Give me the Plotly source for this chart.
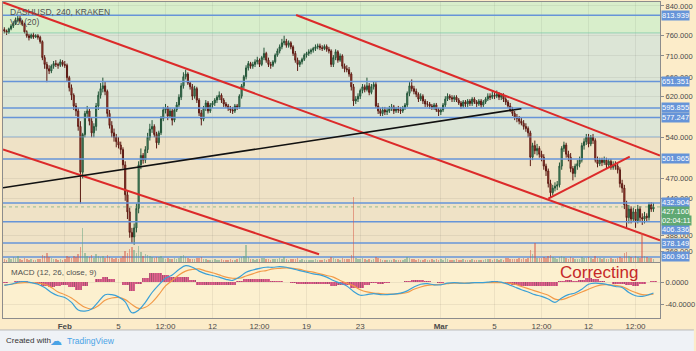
import math
import pandas as pd
import plotly.graph_objects as go

# ---------------- data ----------------
candle_start = "2018-01-27 12:00"   # 240-minute candles
first_open = 776
closes = [
    772, 768, 778,
    785, 792, 800, 806, 798, 790,
    770, 760, 755, 762, 757, 760,
    756, 745, 706, 690, 680, 675,
    686, 692, 690, 688, 696, 690,
    688, 660, 638, 622, 600, 590,
    560, 480, 545, 585, 590, 570,
    548, 560, 600, 622, 636, 642,
    630, 585, 562, 548, 540, 532,
    526, 518, 492, 445, 420, 392,
    386, 398, 425, 492, 508, 500,
    518, 540, 555, 560, 545, 530,
    548, 575, 592, 596, 580, 590,
    572, 592, 602, 618, 642, 662,
    668, 648, 640, 620, 636, 612,
    586, 574, 596, 606, 590, 602,
    606, 612, 618, 622, 612, 604,
    600, 595, 592, 590, 600, 598,
    620, 642, 662, 682, 692, 686,
    690, 696, 700, 690, 706, 716,
    700, 690, 688, 696, 712, 722,
    732, 742, 746, 736, 742, 732,
    716, 700, 690, 696, 702, 712,
    716, 720, 724, 728, 732, 734,
    730, 728, 733, 726, 722, 690,
    706, 720, 700, 710, 686, 680,
    678, 668, 640, 610, 614, 620,
    632, 640, 634, 642, 628, 640,
    645, 600, 590, 585, 592, 588,
    590, 595, 598, 590, 594, 592,
    590, 596, 602, 626, 642, 636,
    630, 624, 614, 620, 610, 604,
    604, 600, 597, 602, 592, 588,
    592, 602, 614, 620, 617, 614,
    618, 612, 606, 600, 608, 604,
    610, 605, 614, 608, 604, 610,
    602, 608, 614, 620, 618, 622,
    620, 624, 618, 622, 614, 608,
    600, 592, 585, 578, 575, 570,
    566, 560, 556, 548, 505, 525,
    516, 520, 510, 505, 490, 482,
    462, 448, 455, 458, 460, 490,
    520, 526, 510, 505, 486, 478,
    490, 494, 500, 525, 532, 540,
    528, 540, 534, 500, 494, 500,
    496, 500, 492, 498, 488, 492,
    490, 484, 462, 455, 430, 412,
    424, 410, 420, 408, 424, 412,
    410, 414, 412, 430, 424, 427.1,
]
highs = [
    782, 776, 781,
    790, 798, 808, 815, 812, 802,
    794, 774, 765, 766, 768, 764,
    764, 760, 748, 712, 696, 688,
    690, 698, 700, 694, 702, 700,
    698, 692, 664, 645, 626, 606,
    596, 570, 548, 590, 600, 594,
    576, 566, 606, 630, 648, 660,
    652, 634, 592, 570, 556, 546,
    540, 532, 522, 498, 452, 426,
    398, 404, 432, 498, 520, 512,
    524, 548, 565, 572, 564, 550,
    552, 580, 598, 604, 600, 596,
    594, 596, 608, 624, 648, 672,
    678, 672, 652, 646, 642, 640,
    616, 592, 600, 612, 610, 606,
    610, 616, 622, 630, 626, 616,
    608, 604, 600, 598, 604, 604,
    624, 646, 666, 688, 698, 696,
    696, 702, 708, 704, 710, 730,
    720, 706, 696, 700, 716, 728,
    738, 752, 760, 752, 748, 746,
    736, 722, 706, 700, 706, 716,
    720, 726, 728, 732, 738, 740,
    740, 736, 738, 738, 732, 726,
    712, 726, 724, 716, 714, 692,
    688, 684, 672, 646, 620, 626,
    636, 646, 645, 660, 648, 646,
    652, 650, 606, 596, 598, 598,
    596, 600, 604, 602, 598, 600,
    598, 600, 606, 630, 650, 656,
    642, 636, 628, 626, 624, 614,
    610, 608, 604, 606, 606, 596,
    596, 606, 620, 626, 624, 622,
    622, 622, 616, 610, 612, 612,
    614, 614, 618, 618, 612, 614,
    614, 612, 618, 626, 626, 630,
    628, 632, 628, 626, 626, 618,
    612, 606, 598, 590, 584, 580,
    576, 572, 566, 560, 552, 530,
    534, 528, 524, 516, 510, 494,
    486, 468, 460, 464, 466, 496,
    524, 532, 530, 516, 512, 490,
    494, 500, 506, 530, 538, 546,
    546, 544, 546, 538, 506, 504,
    504, 506, 504, 502, 502, 498,
    498, 494, 488, 468, 460, 436,
    430, 428, 426, 424, 430, 428,
    418, 420, 418, 434, 434, 433,
]
lows = [
    766, 762, 765,
    774, 780, 788, 795, 794, 785,
    766, 755, 748, 752, 752, 754,
    750, 740, 700, 680, 650, 668,
    670, 680, 684, 680, 684, 685,
    682, 652, 630, 612, 592, 580,
    552, 432, 470, 540, 578, 562,
    540, 540, 552, 592, 615, 628,
    622, 578, 556, 540, 532, 522,
    520, 510, 486, 436, 410, 385,
    378, 376, 392, 418, 485, 494,
    495, 512, 534, 548, 540, 520,
    526, 544, 570, 585, 572, 576,
    562, 568, 588, 598, 612, 636,
    656, 644, 634, 612, 615, 606,
    580, 562, 570, 590, 585, 586,
    596, 600, 606, 612, 606, 598,
    596, 590, 586, 584, 586, 592,
    594, 615, 636, 656, 676, 680,
    680, 684, 690, 684, 686, 700,
    694, 684, 680, 684, 692, 708,
    716, 726, 736, 730, 730, 726,
    710, 694, 675, 684, 690, 698,
    706, 710, 714, 718, 722, 726,
    724, 722, 724, 720, 716, 684,
    684, 700, 694, 696, 680, 672,
    672, 662, 632, 600, 604, 608,
    614, 626, 628, 630, 622, 624,
    634, 596, 584, 580, 580, 582,
    582, 586, 590, 584, 586, 586,
    584, 586, 592, 598, 620, 630,
    624, 618, 608, 610, 604, 598,
    598, 594, 592, 592, 588, 580,
    582, 588, 598, 610, 612, 608,
    608, 608, 602, 594, 596, 598,
    598, 600, 600, 604, 598, 600,
    596, 598, 604, 610, 612, 614,
    614, 616, 612, 612, 608, 602,
    596, 588, 580, 572, 568, 564,
    562, 554, 550, 540, 490, 500,
    510, 508, 504, 498, 484, 474,
    456, 441, 444, 450, 452, 456,
    484, 514, 504, 498, 480, 467,
    472, 484, 488, 496, 518, 526,
    522, 524, 528, 496, 488, 490,
    490, 492, 486, 488, 484, 484,
    484, 478, 456, 448, 424, 398,
    404, 404, 406, 398, 404, 406,
    402, 404, 406, 408, 420, 420,
]
volumes = [
    300, 250, 400,
    350, 500, 450, 600, 300, 250,
    400, 300, 250, 300, 200, 250,
    300, 350, 700, 600, 900, 500,
    400, 300, 350, 250, 300, 250,
    300, 600, 500, 450, 600, 500,
    800, 1500, 3400, 900, 600, 500,
    700, 400, 800, 600, 500, 600,
    400, 700, 500, 400, 350, 400,
    300, 400, 600, 1100, 900, 1300,
    1500, 1200, 900, 1600, 1000, 600,
    800, 700, 600, 500, 450, 500,
    500, 600, 400, 350, 400, 300,
    350, 400, 300, 450, 600, 700,
    500, 400, 300, 350, 300, 400,
    450, 500, 350, 300, 250, 200,
    250, 300, 200, 250, 300, 200,
    250, 200, 300, 250, 200, 300,
    400, 500, 600, 1700, 500, 300,
    300, 250, 300, 350, 400, 450,
    350, 300, 250, 300, 350, 300,
    400, 350, 500, 300, 250, 300,
    350, 300, 400, 250, 300, 250,
    200, 250, 200, 250, 300, 200,
    250, 200, 300, 250, 300, 500,
    400, 350, 300, 250, 400, 300,
    300, 350, 700, 6500, 400, 350,
    300, 400, 300, 250, 300, 250,
    300, 500, 400, 300, 250, 200,
    250, 200, 250, 300, 200, 250,
    200, 250, 300, 500, 450, 300,
    300, 250, 300, 200, 250, 300,
    250, 200, 300, 250, 300, 250,
    300, 250, 400, 300, 250, 200,
    250, 300, 200, 250, 300, 250,
    200, 250, 300, 200, 250, 200,
    250, 200, 300, 350, 300, 250,
    300, 350, 250, 300, 250, 400,
    400, 350, 300, 350, 300, 400,
    350, 400, 300, 450, 1200, 800,
    1900, 400, 450, 400, 500, 450,
    600, 700, 500, 400, 350, 500,
    600, 500, 400, 350, 500, 450,
    350, 300, 350, 500, 400, 450,
    500, 400, 350, 600, 450, 400,
    350, 400, 300, 350, 400, 300,
    350, 400, 500, 450, 900, 1000,
    600, 500, 450, 600, 500, 400,
    2900, 600, 500, 450, 400, 300,
]

# MACD (12, 26, close, 9), read every 12 hours
macd_start = "2018-01-27 12:00"
macd_last_time = "2018-03-16 20:00"
macd_line = [
    -5, -3, 1, 2, 0, -3, -9, -18, -24, -27, -36, -50, -52, -48, -35, -22, -22,
    -26, -35, -55, -50, -36, -18, -4, 8, 14, 24, 31, 28, 21, 16, 13, 10, 6, 4,
    10, 19, 23, 26, 28, 28, 29, 28, 25, 22, 19, 16, 14, 10, 4, -1, -6, -16, -23,
    -22, -20, -22, -22, -21, -19, -15, -8, -3, -2, -4, -4, -1, 0, -1, -1, 0, 0,
    1, 2, 1, -3, -8, -13, -17, -22, -25, -30, -36, -28, -22, -19, -12, -3, -1,
    -2, -4, -7, -9, -18, -24, -25, -22, -19,
]
signal_line = [
    -4, -3, -1, 0, 0, -1, -3, -9, -17, -22, -28, -37, -45, -48, -42, -32, -28,
    -27, -31, -40, -47, -45, -36, -22, -6, 4, 14, 21, 24, 25, 21, 18, 14, 10, 8,
    8, 12, 16, 20, 22, 25, 26, 27, 26, 24, 21, 19, 16, 13, 10, 4, -1, -6, -13,
    -17, -19, -20, -21, -21, -20, -18, -12, -8, -5, -4, -3, -2, -1, -1, -1, 0, 0,
    0, 0, 0, -1, -3, -7, -11, -15, -19, -23, -30, -31, -27, -22, -17, -12, -7,
    -4, -4, -5, -7, -13, -18, -22, -22, -21,
]

# horizontal levels and drawn trend lines (date, price)
level_prices = [813.939, 651.351, 595.855, 577.247, 501.965, 432.904, 406.336, 378.149, 360.961]
zone_edges = [767.2, 540.6]
last_price = 427.1
countdown = "02:04:11"
red_lines = [
    [("2018-01-27 09:36", 850.4), ("2018-03-17 07:41", 381.8)],
    [("2018-02-18 05:21", 815.0), ("2018-03-17 07:41", 507.8)],
    [("2018-01-27 09:36", 518.1), ("2018-02-19 22:21", 364.2)],
    [("2018-03-09 00:00", 439.1), ("2018-03-15 01:40", 506.0)],
]
black_line = [("2018-01-27 09:36", 455.6), ("2018-03-07 00:00", 594.5)]

price_ticks = [840, 760, 710, 660, 620, 540, 470, 440, 388, 368]
x_tick_dates = ["2018-02-01", "2018-02-05", "2018-02-08 12:00", "2018-02-12", "2018-02-15 12:00",
                "2018-02-19", "2018-02-23", "2018-03-01", "2018-03-05", "2018-03-08 12:00",
                "2018-03-12", "2018-03-15 12:00"]
x_tick_text = ["<b>Feb</b>", "5", "12:00", "12", "12:00", "19", "23", "<b>Mar</b>", "5", "12:00", "12", "12:00"]

# ---------------- layout geometry ----------------
W, H = 696, 351
ML, MR, MT, MB = 3, 34, 1, 33
PW = W - ML - MR
PH = H - MT - MB


def xpx(px):
    return (px - ML) / PW


def ypx(py):
    return (H - MB - py) / PH


MAIN_DOM = [ypx(262), 1.0]
MACD_DOM = [0.0, ypx(263)]
P_TOP, P_BOT = 851.35, 354.6
X_RANGE = ["2018-01-27 09:36", "2018-03-17 07:41"]


def p2paper(p):
    f = (math.log10(p) - math.log10(P_BOT)) / (math.log10(P_TOP) - math.log10(P_BOT))
    return MAIN_DOM[0] + f * (MAIN_DOM[1] - MAIN_DOM[0])


FONT = "Liberation Sans, Arial, sans-serif"

times = pd.date_range(candle_start, periods=len(closes), freq="4h")
opens = [first_open] + closes[:-1]
up = [c >= o for o, c in zip(opens, closes)]
vol_colors = ["rgba(107,165,131,0.55)" if u else "rgba(215,84,66,0.5)" for u in up]

macd_times = list(pd.date_range(macd_start, periods=len(macd_line) - 1, freq="12h")) + [pd.Timestamp(macd_last_time)]
hist = [m - s for m, s in zip(macd_line, signal_line)]

fig = go.Figure()

# volume (overlay axis)
fig.add_trace(go.Bar(x=times, y=volumes, marker=dict(color=vol_colors, line=dict(width=0)),
                     width=4 * 3600 * 1000 * 0.7, xaxis="x", yaxis="y3", showlegend=False,
                     hoverinfo="skip"))

# horizontal zone edges
zone_cols = ["rgba(120,200,170,0.7)", "rgba(120,160,210,0.7)"]
for p, c in zip(zone_edges, zone_cols):
    fig.add_trace(go.Scatter(x=X_RANGE, y=[p, p], mode="lines", line=dict(color=c, width=1),
                             xaxis="x", yaxis="y", showlegend=False, hoverinfo="skip"))

# blue levels
for p in level_prices:
    fig.add_trace(go.Scatter(x=X_RANGE, y=[p, p], mode="lines", line=dict(color="#6694d8", width=1.5),
                             xaxis="x", yaxis="y", showlegend=False, hoverinfo="skip"))

# last price dotted line
fig.add_trace(go.Scatter(x=X_RANGE, y=[last_price, last_price], mode="lines",
                         line=dict(color="rgba(90,160,110,0.6)", width=1, dash="dot"),
                         xaxis="x", yaxis="y", showlegend=False, hoverinfo="skip"))

# candles
fig.add_trace(go.Candlestick(
    x=times, open=opens, high=highs, low=lows, close=closes,
    increasing=dict(line=dict(color="#225437", width=1), fillcolor="#6ba583"),
    decreasing=dict(line=dict(color="#5b1a13", width=1), fillcolor="#d75442"),
    whiskerwidth=0, xaxis="x", yaxis="y", showlegend=False))

# trend lines
for seg in red_lines:
    fig.add_trace(go.Scatter(x=[seg[0][0], seg[1][0]], y=[seg[0][1], seg[1][1]], mode="lines",
                             line=dict(color="#dc2a2a", width=2), xaxis="x", yaxis="y",
                             showlegend=False, hoverinfo="skip"))
fig.add_trace(go.Scatter(x=[black_line[0][0], black_line[1][0]], y=[black_line[0][1], black_line[1][1]],
                         mode="lines", line=dict(color="#111111", width=1.6), xaxis="x", yaxis="y",
                         showlegend=False, hoverinfo="skip"))

# MACD
fig.add_trace(go.Bar(x=macd_times, y=hist, width=12 * 3600 * 1000,
                     marker=dict(color="rgba(222,60,125,0.8)", line=dict(width=0),
                                 pattern=dict(shape="|", size=2.2, solidity=0.3)),
                     xaxis="x", yaxis="y2", showlegend=False, hoverinfo="skip"))
fig.add_trace(go.Scatter(x=macd_times, y=signal_line, mode="lines", line=dict(color="#f29a48", width=1.2, shape="spline"),
                         xaxis="x", yaxis="y2", showlegend=False, hoverinfo="skip"))
fig.add_trace(go.Scatter(x=macd_times, y=macd_line, mode="lines", line=dict(color="#3aa0d6", width=1.2, shape="spline"),
                         xaxis="x", yaxis="y2", showlegend=False, hoverinfo="skip"))

# ---------------- shapes (background zones, footer) ----------------
shapes = [
    dict(type="rect", xref="paper", yref="paper", x0=0, x1=1, y0=p2paper(zone_edges[0]), y1=1,
         fillcolor="#d8eecb", line=dict(width=0), layer="below"),
    dict(type="rect", xref="paper", yref="paper", x0=0, x1=1, y0=p2paper(zone_edges[1]), y1=p2paper(zone_edges[0]),
         fillcolor="#dce5d6", line=dict(width=0), layer="below"),
    dict(type="rect", xref="paper", yref="paper", x0=0, x1=1, y0=MAIN_DOM[0], y1=p2paper(zone_edges[1]),
         fillcolor="#efe2c6", line=dict(width=0), layer="below"),
    dict(type="rect", xref="paper", yref="paper", x0=xpx(0), x1=xpx(W), y0=ypx(H), y1=ypx(330),
         fillcolor="#eff2f6", line=dict(width=0), layer="below"),
    dict(type="line", xref="paper", yref="paper", x0=xpx(0), x1=xpx(W), y0=ypx(330), y1=ypx(330),
         line=dict(color="#b9b9b9", width=1)),
]

# ---------------- annotations ----------------
ann = []
labels = []
for p in level_prices:
    labels.append((f"{p:.3f}", p, "#6694d8", -7.5 if abs(p - 406.336) < 1e-6 else 0))
labels.append((f"{last_price:.3f}", last_price, "#5fa873", -4.5))
labels.append((countdown, last_price, "#5fa873", -13.5))
for t, p, c, sh in labels:
    ann.append(dict(text=t, xref="paper", yref="paper", x=1, y=p2paper(p), xanchor="left", yanchor="middle",
                    yshift=sh, xshift=1, showarrow=False, bgcolor=c, borderpad=0,
                    font=dict(color="white", size=7.5, family=FONT)))

ann += [
    dict(text="DASHUSD, 240, KRAKEN", x=xpx(8), y=ypx(11), xanchor="left", yanchor="middle",
         font=dict(size=8.5, color="#505050", family=FONT)),
    dict(text="Vol (20)", x=xpx(8), y=ypx(21.5), xanchor="left", yanchor="middle",
         font=dict(size=8.5, color="#505050", family=FONT)),
    dict(text="MACD (12, 26, close, 9)", x=xpx(9), y=ypx(272), xanchor="left", yanchor="middle",
         font=dict(size=8, color="#505050", family=FONT)),
    dict(text="Correcting", x=xpx(601), y=ypx(272), xanchor="center", yanchor="middle",
         font=dict(size=17, color="#c62828", family=FONT)),
    dict(text="Created with", x=xpx(4), y=ypx(341), xanchor="left", yanchor="middle",
         font=dict(size=8, color="#333333", family=FONT)),
    dict(text="☁", x=xpx(56), y=ypx(341), xanchor="center", yanchor="middle",
         font=dict(size=12, color="#4aa3e6", family="DejaVu Sans")),
    dict(text="TradingView", x=xpx(65), y=ypx(341), xanchor="left", yanchor="middle",
         font=dict(size=8.5, color="#4aa3e6", family=FONT)),
]
for a in ann:
    a.setdefault("xref", "paper")
    a.setdefault("yref", "paper")
    a.setdefault("showarrow", False)

grid = "rgba(0,0,0,0.06)"
fig.update_layout(
    width=W, height=H,
    margin=dict(l=ML, r=MR, t=MT, b=MB, pad=0),
    paper_bgcolor="#fcecc9",
    plot_bgcolor="#fcf0cf",
    font=dict(family=FONT, size=8, color="#4a4a4a"),
    showlegend=False,
    bargap=0,
    barmode="overlay",
    xaxis=dict(type="date", range=X_RANGE, anchor="y2", domain=[0, 1],
               tickmode="array", tickvals=x_tick_dates, ticktext=x_tick_text,
               tickfont=dict(size=8, color="#4a4a4a"), ticks="", showgrid=True, gridcolor=grid,
               showline=True, linecolor="#8c8c8c", linewidth=1, mirror="all",
               rangeslider=dict(visible=False), zeroline=False),
    yaxis=dict(type="log", domain=MAIN_DOM, range=[math.log10(P_BOT), math.log10(P_TOP)],
               side="right", anchor="x", tickmode="array", tickvals=price_ticks,
               ticktext=[f"{v:.3f}" for v in price_ticks], ticks="outside", ticklen=3,
               tickcolor="#8c8c8c", tickfont=dict(size=7.5, color="#4a4a4a"),
               showgrid=True, gridcolor=grid, showline=True, linecolor="#8c8c8c", mirror=True,
               zeroline=False),
    yaxis2=dict(domain=MACD_DOM, range=[-64.5, 35.45], side="right", anchor="x",
                tickmode="array", tickvals=[0, -40], ticktext=["0.0000", "-40.0000"],
                ticks="outside", ticklen=3, tickcolor="#8c8c8c",
                tickfont=dict(size=7.5, color="#4a4a4a"), showgrid=True, gridcolor=grid,
                showline=True, linecolor="#8c8c8c", mirror=True, zeroline=False),
    yaxis3=dict(overlaying="y", range=[0, 26100], visible=False, showgrid=False, anchor="x"),
    shapes=shapes,
    annotations=ann,
)

fig.write_html("out.html")
